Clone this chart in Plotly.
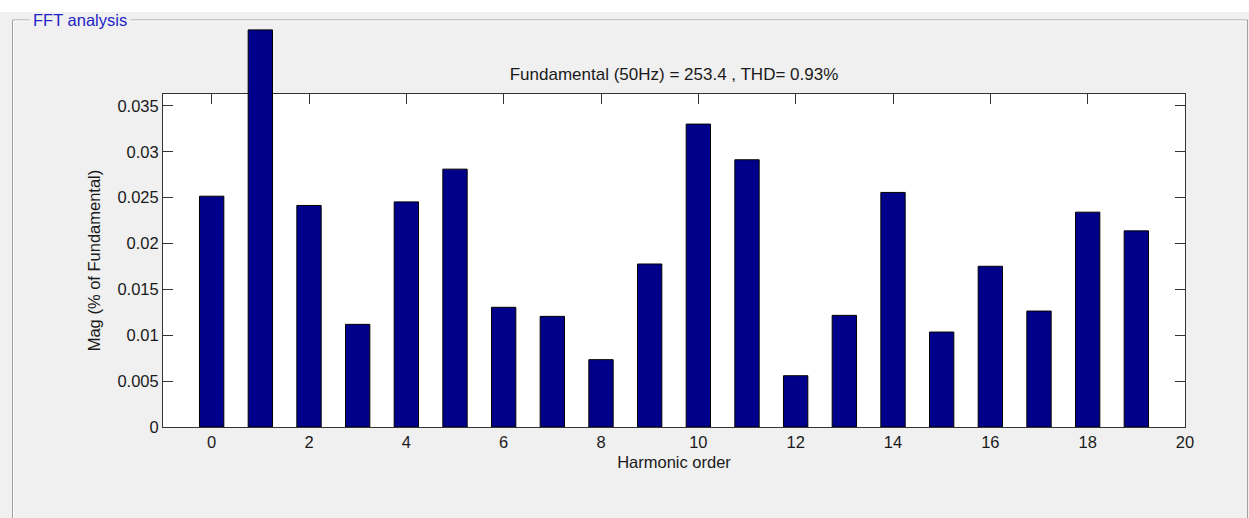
import plotly.graph_objects as go

# ---- data ----
harmonic_order = list(range(20))
magnitude = [0.02516, 0.04329, 0.02415, 0.01119, 0.02454, 0.02811, 0.01305, 0.01206,
             0.00734, 0.01777, 0.03302, 0.02913, 0.00559, 0.01217, 0.02557, 0.01035,
             0.01752, 0.01264, 0.02342, 0.02138]
x_ticks = [0, 2, 4, 6, 8, 10, 12, 14, 16, 18, 20]
y_ticks = [0, 0.005, 0.01, 0.015, 0.02, 0.025, 0.03, 0.035]
y_tick_text = ["0", "0.005", "0.01", "0.015", "0.02", "0.025", "0.03", "0.035"]
title_text = "Fundamental (50Hz) = 253.4 , THD= 0.93%"
panel_label = "FFT analysis"
x_range = [-1, 20]
y_max = 0.0363

W, H = 1249, 518
L, R, T, B = 163, 1185, 94, 427   # visible axes box in pixels
PA_T = 20                          # top of the (larger) plotting area
FONT = "Liberation Sans, Arial, sans-serif"
BG = "#f0f0f0"
TXT = "#1a1a1a"

def px(xp):
    return (xp - L) / (R - L)

def py(yp):
    return (B - yp) / (B - PA_T)

dom_top = (B - T) / (B - PA_T)

fig = go.Figure()
# empty trace keeps the visible axes subplot
fig.add_trace(go.Scatter(x=[], y=[], xaxis="x", yaxis="y", showlegend=False))
# bars on invisible axes with the same scale but a taller domain,
# so the tall bar can rise above the axes box like in the original
fig.add_trace(go.Bar(
    x=harmonic_order, y=magnitude, width=0.5, xaxis="x2", yaxis="y2",
    marker=dict(color="#00008b", line=dict(color="#000000", width=1)),
    hoverinfo="x+y", showlegend=False,
))

axis_common = dict(
    showline=True, linecolor="#333333", linewidth=1, mirror="ticks",
    ticks="inside", ticklen=10, tickwidth=1, tickcolor="#333333",
    showgrid=False, zeroline=False, layer="below traces",
    tickfont=dict(family=FONT, size=16.5, color=TXT),
)

fig.update_layout(
    width=W, height=H,
    margin=dict(l=L, r=W - R, t=PA_T, b=H - B, autoexpand=False),
    paper_bgcolor=BG, plot_bgcolor="rgba(0,0,0,0)",
    showlegend=False,
    font=dict(family=FONT, size=16.5, color=TXT),
    title=dict(text=title_text, x=0.5, xref="paper", xanchor="center",
               y=1 - 74 / H, yref="container", yanchor="middle",
               font=dict(family=FONT, size=17, color=TXT)),
    xaxis=dict(axis_common, range=x_range, tickvals=x_ticks, anchor="y", domain=[0, 1],
               title=dict(text="Harmonic order", standoff=6,
                          font=dict(family=FONT, size=16.5, color=TXT))),
    yaxis=dict(axis_common, range=[0, y_max], domain=[0, dom_top], anchor="x",
               tickvals=y_ticks, ticktext=y_tick_text,
               title=dict(text="Mag (% of Fundamental)", standoff=12,
                          font=dict(family=FONT, size=16.5, color=TXT))),
    xaxis2=dict(range=x_range, domain=[0, 1], anchor="y2",
                visible=False, showgrid=False, zeroline=False),
    yaxis2=dict(range=[0, y_max / dom_top], domain=[0, 1], anchor="x2",
                visible=False, showgrid=False, zeroline=False),
)

shapes = []
# white plotting box
shapes.append(dict(type="rect", xref="x domain", yref="y domain", x0=0, x1=1, y0=0, y1=1,
                   fillcolor="#ffffff", line=dict(width=0), layer="below"))
# white strip at top of window
shapes.append(dict(type="rect", xref="paper", yref="paper", x0=px(0), x1=px(W),
                   y0=py(0), y1=py(12), fillcolor="#ffffff", line=dict(width=0), layer="below"))
frame_dark = "#a0a0a0"
frame_light = "#ffffff"

def seg(x0, y0, x1, y1, color):
    shapes.append(dict(type="line", xref="paper", yref="paper",
                       x0=px(x0), y0=py(y0), x1=px(x1), y1=py(y1),
                       line=dict(color=color, width=1), layer="below"))

# group-box frame, top line split for the label
seg(13, 20, 30, 20, frame_dark)
seg(14, 21, 30, 21, frame_light)
seg(130, 20, 1247.5, 20, frame_dark)
seg(130, 21, 1246.5, 21, frame_light)
seg(12.5, 20, 12.5, H, frame_dark)
seg(13.5, 21, 13.5, H, frame_light)
seg(1247.5, 20, 1247.5, H, frame_dark)
fig.update_layout(shapes=shapes)

fig.add_annotation(text=panel_label, xref="paper", yref="paper",
                   x=px(31), y=py(20), xanchor="left", yanchor="middle",
                   showarrow=False, font=dict(family=FONT, size=16.5, color="#2323c8"))

fig.write_html("out.html", config={"displayModeBar": False},
               post_script="document.body.style.margin='0';")
